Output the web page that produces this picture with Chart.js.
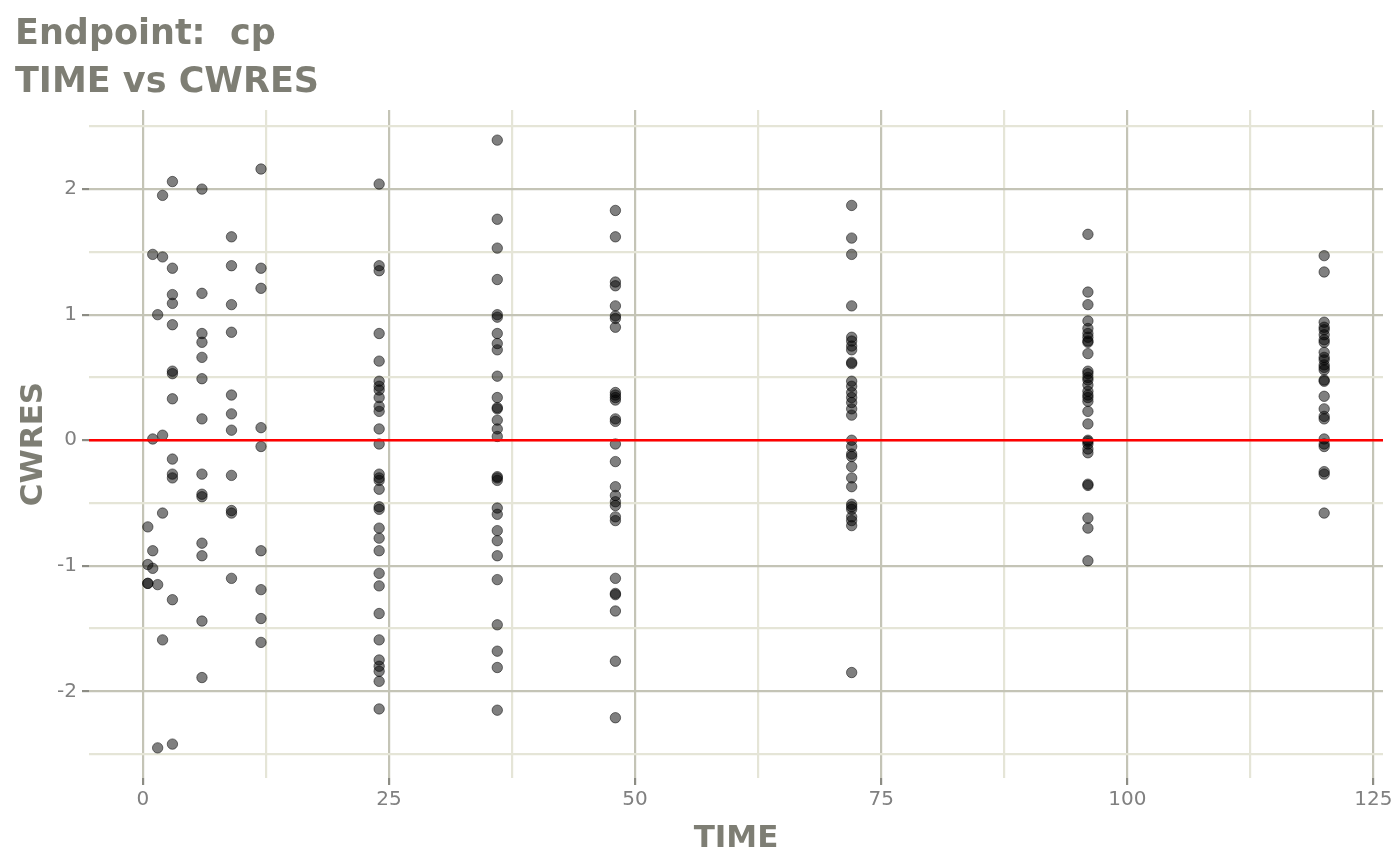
<!DOCTYPE html>
<html><head><meta charset="utf-8">
<script src="https://cdn.jsdelivr.net/npm/chart.js@4.4.1/dist/chart.umd.min.js"></script>
<style>html,body{margin:0;padding:0;background:#fff;}#wrap{width:1400px;height:865px;position:relative;}</style>
</head><body><div id="wrap"><canvas id="c" width="1400" height="865"></canvas></div>
<script>
const TITLE_LINES = ['Endpoint:  cp', 'TIME vs CWRES'];
const X_LABEL = 'TIME';
const Y_LABEL = 'CWRES';
const X_MAJOR = [0, 25, 50, 75, 100, 125];
const X_MINOR = [12.5, 37.5, 62.5, 87.5, 112.5];
const Y_MAJOR = [-2, -1, 0, 1, 2];
const Y_MINOR = [-2.5, -1.5, -0.5, 0.5, 1.5, 2.5];
const X_RANGE = [-5.475, 125.975];
const Y_RANGE = [-2.69, 2.63];
const REF_Y = 0;

const TIMES = [0.5, 1, 1.5, 2, 3, 6, 9, 12, 24, 36, 48, 72, 96, 120];
const CWRES_T0_5 = [-0.69, -0.99, -1.14, -1.14];
const CWRES_T1 = [1.48, 0.01, -0.88, -1.02];
const CWRES_T1_5 = [1.00, -1.15, -2.45];
const CWRES_T2 = [1.95, 1.46, 0.04, -0.58, -1.59];
const CWRES_T3 = [2.06, 1.37, 1.16, 1.09, 0.92, 0.55, 0.53, 0.33, -0.15, -0.27, -0.30, -1.27, -2.42];
const CWRES_T6 = [2.00, 1.17, 0.85, 0.78, 0.66, 0.49, 0.17, -0.27, -0.43, -0.45, -0.82, -0.92, -1.44, -1.89];
const CWRES_T9 = [1.62, 1.39, 1.08, 0.86, 0.36, 0.21, 0.08, -0.28, -0.56, -0.58, -1.10];
const CWRES_T12 = [2.16, 1.37, 1.21, 0.10, -0.05, -0.88, -1.19, -1.42, -1.61];
const CWRES_T24 = [2.04, 1.39, 1.35, 0.85, 0.63, 0.47, 0.43, 0.40, 0.34, 0.27, 0.23, 0.09, -0.03, -0.27, -0.30, -0.32, -0.39, -0.53, -0.55, -0.70, -0.78, -0.88, -1.06, -1.16, -1.38, -1.59, -1.75, -1.80, -1.84, -1.92, -2.14];
const CWRES_T36 = [2.39, 1.76, 1.53, 1.28, 1.00, 0.98, 0.85, 0.77, 0.72, 0.51, 0.34, 0.26, 0.25, 0.16, 0.09, 0.03, -0.29, -0.30, -0.32, -0.54, -0.59, -0.72, -0.80, -0.92, -1.11, -1.47, -1.68, -1.81, -2.15];
const CWRES_T48 = [1.83, 1.62, 1.26, 1.23, 1.07, 0.99, 0.97, 0.90, 0.38, 0.36, 0.34, 0.32, 0.17, 0.15, -0.03, -0.17, -0.37, -0.44, -0.49, -0.52, -0.61, -0.64, -1.10, -1.22, -1.23, -1.36, -1.76, -2.21];
const CWRES_T72 = [1.87, 1.61, 1.48, 1.07, 0.82, 0.79, 0.75, 0.72, 0.62, 0.61, 0.47, 0.43, 0.38, 0.34, 0.30, 0.25, 0.20, 0.00, -0.05, -0.11, -0.13, -0.21, -0.30, -0.37, -0.51, -0.53, -0.55, -0.61, -0.64, -0.68, -1.85];
const CWRES_T96 = [1.64, 1.18, 1.08, 0.95, 0.89, 0.85, 0.82, 0.79, 0.78, 0.69, 0.55, 0.53, 0.50, 0.48, 0.44, 0.39, 0.36, 0.34, 0.31, 0.23, 0.13, 0.00, -0.01, -0.03, -0.07, -0.10, -0.35, -0.36, -0.62, -0.70, -0.96];
const CWRES_T120 = [1.47, 1.34, 0.94, 0.90, 0.88, 0.84, 0.80, 0.78, 0.70, 0.66, 0.64, 0.60, 0.58, 0.56, 0.48, 0.47, 0.35, 0.25, 0.19, 0.17, 0.01, -0.03, -0.05, -0.25, -0.27, -0.58];

const CWRES_BY_TIME = [CWRES_T0_5, CWRES_T1, CWRES_T1_5, CWRES_T2, CWRES_T3, CWRES_T6, CWRES_T9, CWRES_T12, CWRES_T24, CWRES_T36, CWRES_T48, CWRES_T72, CWRES_T96, CWRES_T120];
const points = [];
TIMES.forEach((t, i) => CWRES_BY_TIME[i].forEach(v => points.push({x: t, y: v})));

const TXT = '#7e7e74';
const TICK_TXT = '#808080';
const GRID_MAJOR = '#c4c4b6';
const GRID_MINOR = '#e5e5d7';
const FONT = '"DejaVu Sans", sans-serif';

const deco = {
  id: 'deco',
  afterDatasetsDraw(chart) {
    const {ctx, chartArea: a, scales: {y}} = chart;
    const py = y.getPixelForValue(REF_Y);
    ctx.save();
    ctx.strokeStyle = '#ff0000';
    ctx.lineWidth = 2.4;
    ctx.beginPath(); ctx.moveTo(a.left, py); ctx.lineTo(a.right, py); ctx.stroke();
    ctx.restore();
  },
  afterDraw(chart) {
    const {ctx, chartArea: a} = chart;
    ctx.save();
    ctx.fillStyle = TXT;
    ctx.textAlign = 'left';
    ctx.textBaseline = 'alphabetic';
    ctx.font = 'bold 35px ' + FONT;
    ctx.fillText(TITLE_LINES[0], 15, 44);
    ctx.fillText(TITLE_LINES[1], 15, 92);
    ctx.font = 'bold 31px ' + FONT;
    ctx.textAlign = 'center';
    ctx.fillText(X_LABEL, (a.left + a.right) / 2, 847);
    ctx.translate(42, (a.top + a.bottom) / 2);
    ctx.rotate(-Math.PI / 2);
    ctx.fillText(Y_LABEL, 0, 0);
    ctx.restore();
  }
};

const isIn = (arr, v) => arr.some(m => Math.abs(m - v) < 1e-9);

new Chart(document.getElementById('c'), {
  type: 'scatter',
  data: {datasets: [{
    data: points,
    pointRadius: 5.2,
    pointBackgroundColor: 'rgba(0,0,0,0.5)',
    pointBorderColor: 'rgba(0,0,0,0.5)',
    pointBorderWidth: 1,
    pointHoverRadius: 5.2
  }]},
  options: {
    responsive: false,
    animation: false,
    devicePixelRatio: 1,
    layout: {padding: {top: 110, right: 17, left: 0, bottom: 0}},
    plugins: {legend: {display: false}, tooltip: {enabled: false}, title: {display: false}},
    scales: {
      x: {
        type: 'linear', min: X_RANGE[0], max: X_RANGE[1],
        afterBuildTicks: s => { s.ticks = [...X_MAJOR, ...X_MINOR].sort((p, q) => p - q).map(v => ({value: v})); },
        afterFit: s => { s.height = 87; },
        border: {display: false},
        grid: {
          lineWidth: 2.2,
          color: c => isIn(X_MAJOR, c.tick.value) ? GRID_MAJOR : GRID_MINOR,
          tickColor: c => isIn(X_MAJOR, c.tick.value) ? '#8c8c84' : 'rgba(0,0,0,0)',
          tickLength: 7
        },
        ticks: {
          autoSkip: false, maxRotation: 0, padding: 3,
          color: TICK_TXT, font: {family: FONT, size: 20},
          callback: v => isIn(X_MAJOR, v) ? String(v) : ''
        }
      },
      y: {
        type: 'linear', min: Y_RANGE[0], max: Y_RANGE[1],
        afterBuildTicks: s => { s.ticks = [...Y_MAJOR, ...Y_MINOR].sort((p, q) => p - q).map(v => ({value: v})); },
        afterFit: s => { s.width = 89; },
        border: {display: false},
        grid: {
          lineWidth: 2.2,
          color: c => isIn(Y_MAJOR, c.tick.value) ? GRID_MAJOR : GRID_MINOR,
          tickColor: c => isIn(Y_MAJOR, c.tick.value) ? '#8c8c84' : 'rgba(0,0,0,0)',
          tickLength: 7
        },
        ticks: {
          autoSkip: false, padding: 5,
          color: TICK_TXT, font: {family: FONT, size: 20},
          callback: v => isIn(Y_MAJOR, v) ? String(v) : ''
        }
      }
    }
  },
  plugins: [deco]
});
</script></body></html>
